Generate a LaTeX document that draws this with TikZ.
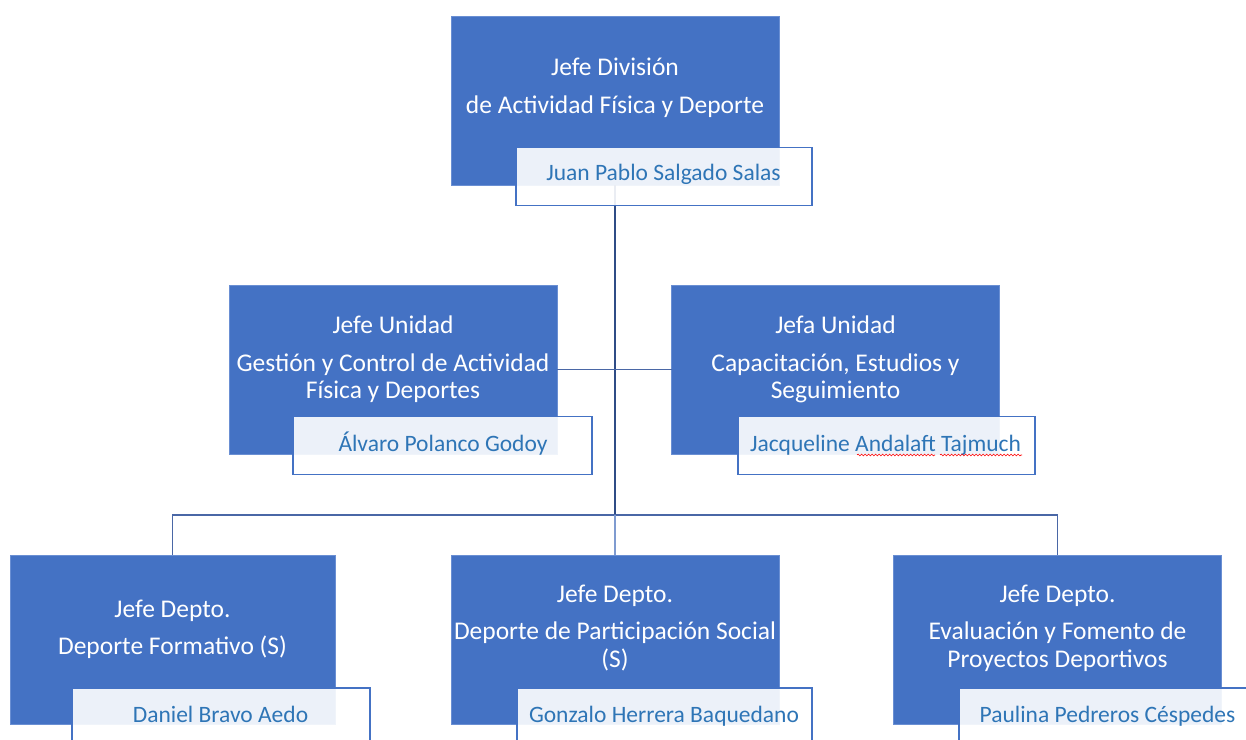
\documentclass[tikz,border=0pt]{standalone}
\usepackage{fontspec}
\setmainfont{Carlito}
\usetikzlibrary{decorations.pathmorphing}
\definecolor{boxblue}{HTML}{4472C4}
\definecolor{boxedge}{HTML}{6A8FD3}
\definecolor{namefg}{HTML}{2E75B6}
\definecolor{linedark}{HTML}{2F4C86}
\definecolor{linemid}{HTML}{4A67A6}
\definecolor{linelight}{HTML}{7F9BD0}
\begin{document}
\begin{tikzpicture}[x=1pt,y=-1pt,
  rolebox/.style={rectangle,fill=boxblue,draw=boxedge,line width=0.8pt,inner sep=0pt,outer sep=0pt,
    minimum width=328pt,minimum height=169pt},
  namebox/.style={rectangle,fill=white,fill opacity=0.9,draw=boxblue,line width=1.2pt,
    inner sep=0pt,outer sep=0pt,minimum width=296pt,minimum height=58pt},
  roletext/.style={anchor=base,text=white,font=\fontsize{25.5}{30}\selectfont,inner sep=0pt},
  nametext/.style={anchor=base,text=namefg,font=\fontsize{23.5}{28}\selectfont,inner sep=0pt},
  conn/.style={draw=linemid,line width=1.6pt},
  spell/.style={draw=red,line width=0.6pt,decorate,decoration={snake,segment length=3.5pt,amplitude=0.9pt}}]
\useasboundingbox (0,0) rectangle (1246,739);

% blue role boxes
\node[rolebox] (div) at (615,100.5) {};
\node[rolebox] (u1) at (393,369.5) {};
\node[rolebox] (u2) at (835.5,369.5) {};
\node[rolebox,minimum width=325pt] (d1) at (172.5,639.5) {};
\node[rolebox] (d2) at (615,639.5) {};
\node[rolebox] (d3) at (1057.5,639.5) {};

% connectors
\coordinate (bus) at (615,515);
\draw[conn,draw=linedark,line width=2pt] (div.south) -- (bus);
\draw[conn] (u1.east) -- (u2.west);
\draw[conn] (d1.north) |- (bus) -| (d3.north);
\draw[conn,draw=linelight] (bus) -- (d2.north);

% name boxes
\node[namebox] (ndiv) at (664,176.5) {};
\node[namebox,minimum width=299pt] (nu1) at (442.5,445.5) {};
\node[namebox,minimum width=297pt] (nu2) at (886.5,445.5) {};
\node[namebox,minimum width=298pt] (nd1) at (221,717) {};
\node[namebox,minimum width=295pt] (nd2) at (664.5,717) {};
\node[namebox,minimum width=298pt] (nd3) at (1108,717) {};

% role titles
\node[roletext] (t1a) at (615,75) {Jefe División};
\node[roletext] (t1b) at (615,113) {de Actividad Física y Deporte};
\node[roletext] (t2a) at (393,333) {Jefe Unidad};
\node[roletext] (t2b) at (393,371) {Gestión y Control de Actividad};
\node[roletext] (t2c) at (393,398) {Física y Deportes};
\node[roletext] (t3a) at (835.5,333) {Jefa Unidad};
\node[roletext] (t3b) at (835.5,371) {Capacitación, Estudios y};
\node[roletext] (t3c) at (835.5,398) {Seguimiento};
\node[roletext] (t4a) at (172.5,617) {Jefe Depto.};
\node[roletext] (t4b) at (172.5,654) {Deporte Formativo (S)};
\node[roletext] (t5a) at (615,602) {Jefe Depto.};
\node[roletext] (t5b) at (615,639) {Deporte de Participación Social};
\node[roletext] (t5c) at (615,667) {(S)};
\node[roletext] (t6a) at (1057.5,602) {Jefe Depto.};
\node[roletext] (t6b) at (1057.5,639) {Evaluación y Fomento de};
\node[roletext] (t6c) at (1057.5,667) {Proyectos Deportivos};

% person names
\node[nametext] (p1) at (663.5,180) {Juan Pablo Salgado Salas};
\node[nametext] (p2) at (443,451) {Álvaro Polanco Godoy};
\node[nametext] (p3) at (885.5,451) {Jacqueline Andalaft Tajmuch};
\node[nametext] (p4) at (220.5,722) {Daniel Bravo Aedo};
\node[nametext] (p5) at (664,722) {Gonzalo Herrera Baquedano};
\node[nametext] (p6) at (1107.5,722) {Paulina Pedreros Céspedes};

% spell-check marks under the surname
\path[spell] (857,455) -- (935,455);
\path[spell] (940,455) -- (1022,455);
\end{tikzpicture}
\end{document}
